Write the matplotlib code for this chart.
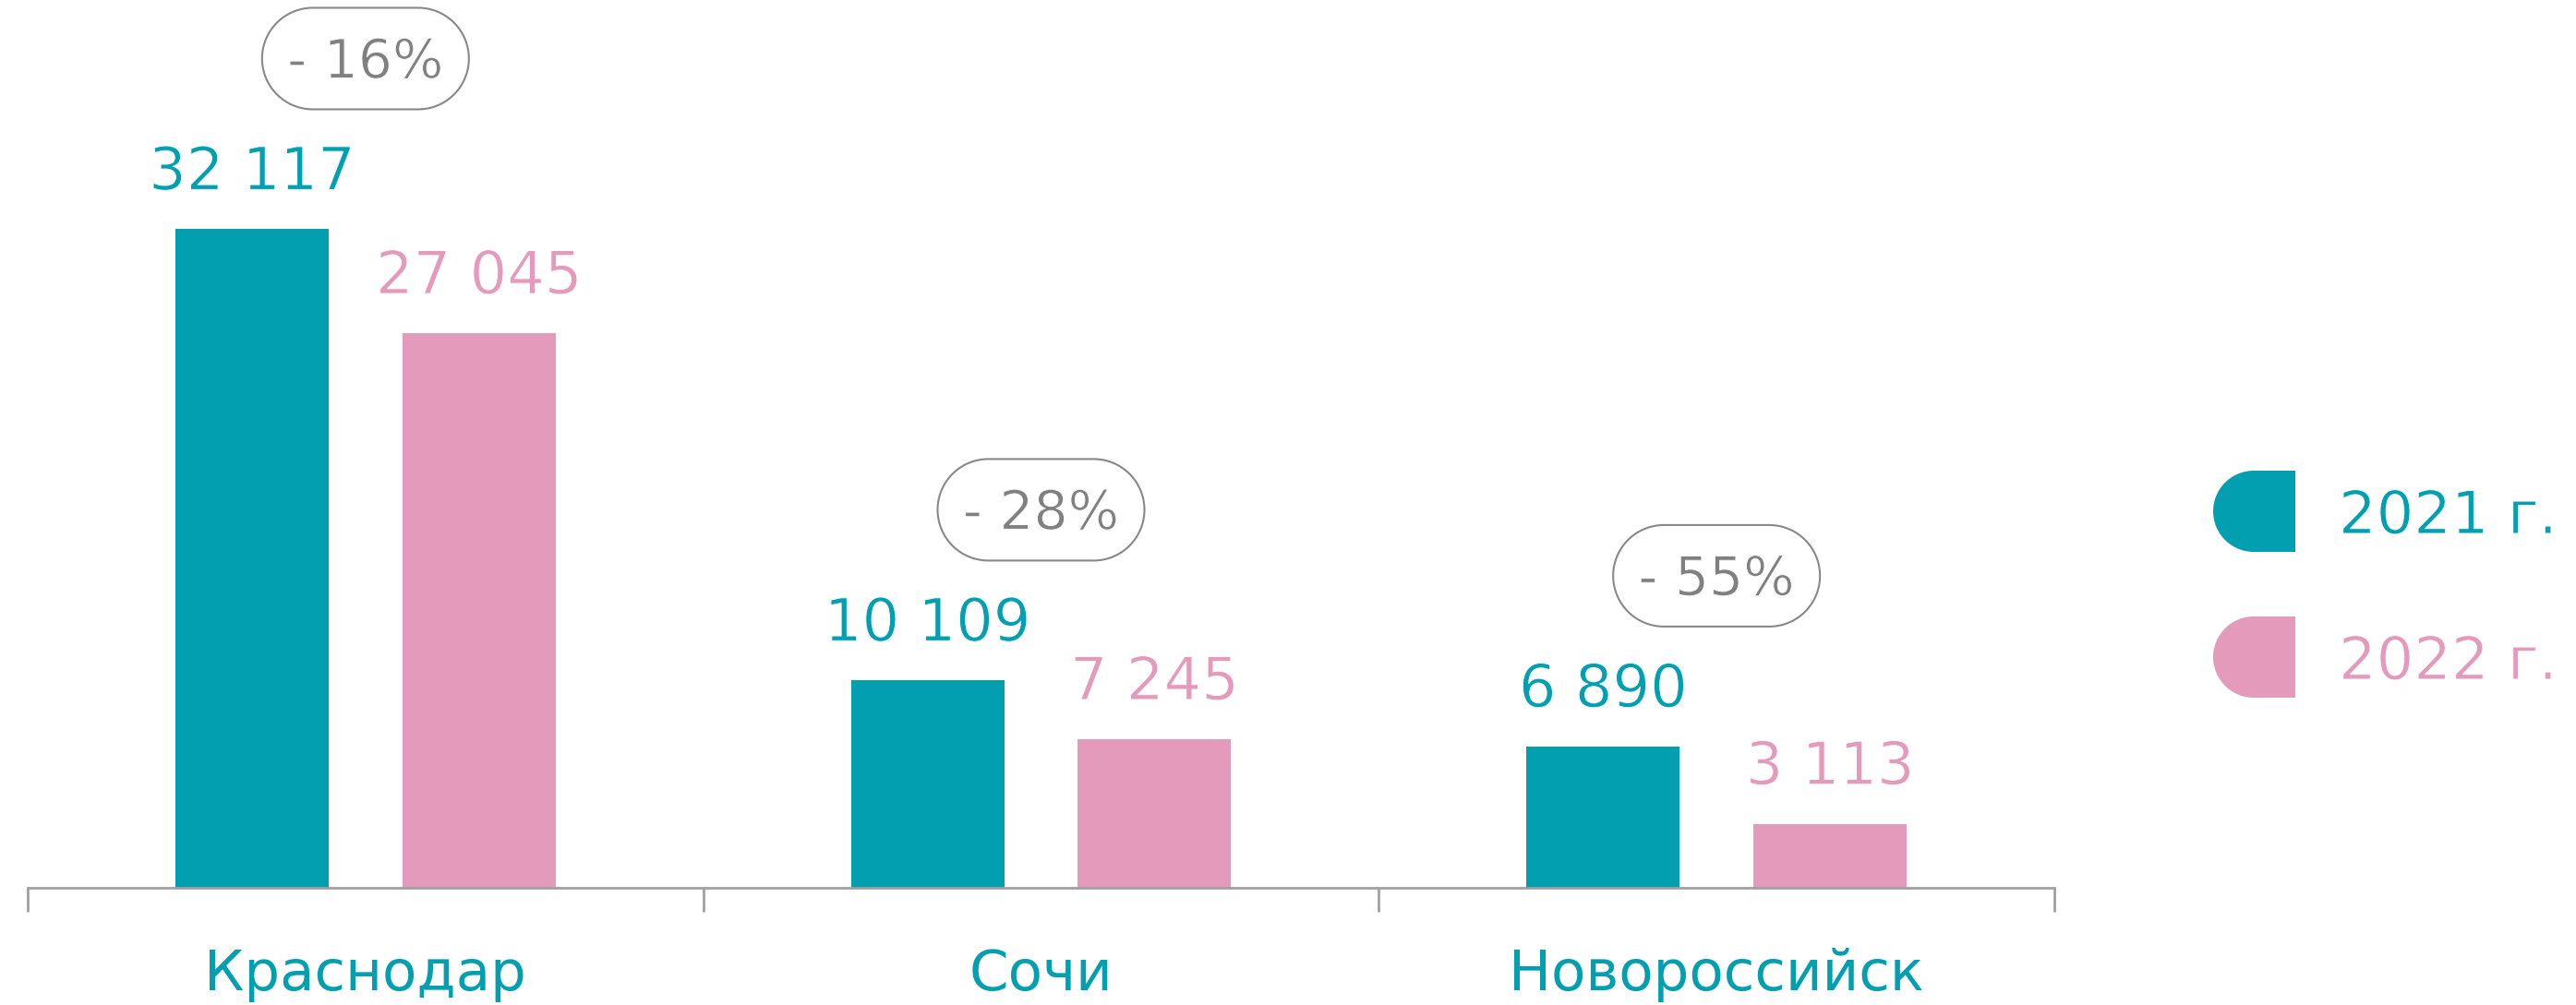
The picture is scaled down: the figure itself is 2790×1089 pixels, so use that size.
"""
Число сделок по городам: 2021 vs 2022
"""
import matplotlib
matplotlib.use('Agg')
import matplotlib.pyplot as plt
import matplotlib.patheffects as pe
import numpy as np
from matplotlib.patches import Polygon, Wedge, Rectangle
from matplotlib.transforms import IdentityTransform

# данные
cities = ['Краснодар', 'Сочи', 'Новороссийск']
values_2021 = [32117, 10109, 6890]
values_2022 = [27045, 7245, 3113]
years = ['2021 г.', '2022 г.']

TEAL = '#019FB0'
PINK = '#E49ABB'
GRAY = '#A0A0A0'
TEXT_GRAY = '#808080'

W, H = 2790, 1089
fig = plt.figure(figsize=(W / 100, H / 100), dpi=100)
ax = fig.add_axes([30 / W, 127 / H, 2195 / W, 962 / H])
ax.patch.set_visible(False)

# чуть более тонкое начертание: белая обводка поверх глифа
thin = [pe.Normal(), pe.Stroke(linewidth=0.7, foreground='white')]

x = np.arange(len(cities))
off, bw = 0.168, 0.227
bars1 = ax.bar(x - off, values_2021, bw, color=TEAL)
bars2 = ax.bar(x + off, values_2022, bw, color=PINK)

ax.set_xlim(-0.5, 2.5)
ax.set_ylim(0, 43300)
for s in ['top', 'left', 'right']:
    ax.spines[s].set_visible(False)
ax.spines['bottom'].set_color(GRAY)
ax.spines['bottom'].set_linewidth(2)
ax.set_yticks([])
ax.set_xticks([-0.5, 0.5, 1.5, 2.5])
ax.set_xticklabels([])
ax.tick_params(axis='x', direction='out', length=19, width=2, color=GRAY)


def fmt(v):
    return f'{v:,}'.replace(',', ' ')


def stadium(cx, cy, w, h):
    """овальная плашка в пикселях"""
    r = h / 2
    t = np.linspace(-np.pi / 2, np.pi / 2, 60)
    right = np.c_[cx + w / 2 - r + r * np.cos(t), cy + r * np.sin(t)]
    left = np.c_[cx - w / 2 + r - r * np.cos(t), cy - r * np.sin(t)]
    return np.vstack([right, left])


# подписи значений
for bars, vals, col in [(bars1, values_2021, TEAL), (bars2, values_2022, PINK)]:
    for b, v in zip(bars, vals):
        ax.annotate(fmt(v), (b.get_x() + b.get_width() / 2, v),
                    xytext=(0, 31), textcoords='offset points',
                    ha='center', va='baseline', fontsize=46, color=col,
                    family='DejaVu Sans', path_effects=thin)

# названия городов
for xi, name in zip(x, cities):
    ax.annotate(name, (xi, 0), xytext=(0, -80), textcoords='offset points',
                ha='center', va='baseline', fontsize=44, color=TEAL,
                family='DejaVu Sans')

# плашки с изменением в %
for xi, v1, v2 in zip(x, values_2021, values_2022):
    pct = (v2 - v1) / v1 * 100
    px, py = ax.transData.transform((xi, v1))
    cy = py + 185
    pill = Polygon(stadium(px, cy, 224, 110), closed=True,
                   transform=IdentityTransform(), facecolor='white',
                   edgecolor='#888888', linewidth=1.5)
    fig.add_artist(pill)
    fig.text(px, cy - 21, f'- {abs(pct):.0f}%', transform=IdentityTransform(),
             ha='center', va='baseline', fontsize=42, color=TEXT_GRAY,
             family='DejaVu Sans', path_effects=thin)

# легенда
for yr, col, ytop in zip(years, [TEAL, PINK], [510, 668]):
    yc = H - (ytop + 44)
    fig.add_artist(Wedge((2441, yc), 44, 90, 270, transform=IdentityTransform(),
                         facecolor=col, edgecolor='none'))
    fig.add_artist(Rectangle((2441, yc - 44), 45, 88, transform=IdentityTransform(),
                             facecolor=col, edgecolor='none'))
    fig.text(2533, yc - 24, yr, transform=IdentityTransform(), ha='left',
             va='baseline', fontsize=46, color=col, family='DejaVu Sans',
             path_effects=thin)

plt.savefig('out.png', dpi=100)
plt.close()
